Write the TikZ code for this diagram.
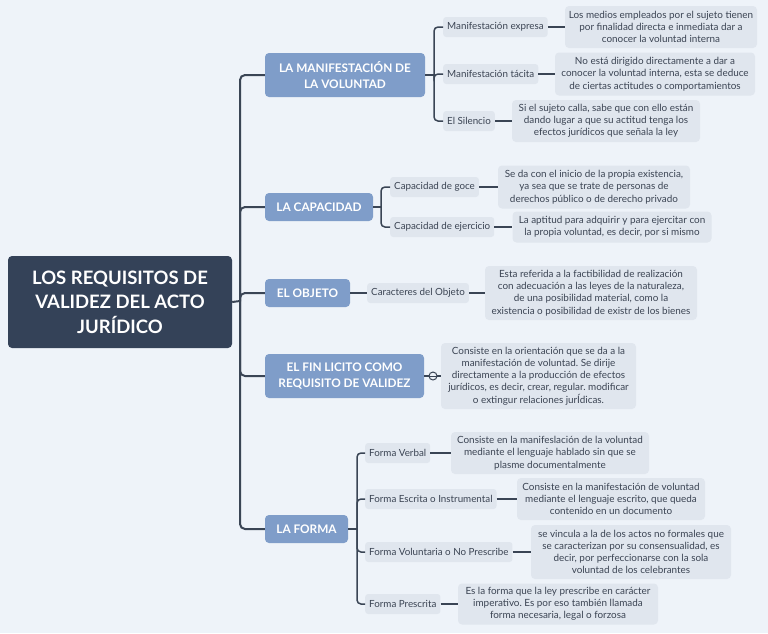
\documentclass[tikz,border=0pt]{standalone}
\usepackage{fontspec}
\setmainfont{Lato}
\frenchspacing
\definecolor{bg}{HTML}{EEF3F9}
\definecolor{rootc}{HTML}{344258}
\definecolor{mainc}{HTML}{7F9DC9}
\definecolor{boxc}{HTML}{E0E6EE}
\definecolor{txt}{HTML}{3B4453}
\definecolor{linec}{HTML}{3A4555}
\tikzset{
  rootbox/.style={fill=rootc, text=white, rounded corners=4, align=center, inner sep=0,
    font=\fontsize{18.5}{24.5}\selectfont\bfseries},
  mainbox/.style={fill=mainc, text=white, rounded corners=4, align=center, inner sep=0,
    font=\fontsize{11.8}{16}\selectfont\bfseries},
  subbox/.style={fill=boxc, text=txt, rounded corners=3, align=center, inner xsep=4, inner ysep=0,
    minimum height=20, anchor=west, font=\fontsize{9.8}{12}\selectfont},
  detail/.style={fill=boxc, text=txt, rounded corners=4, align=center, inner sep=0,
    font=\fontsize{9.9}{12.2}\selectfont},
  trunk/.style={draw=linec, line width=2, rounded corners=5},
  brack/.style={draw=linec, line width=1.5, rounded corners=4},
  conn/.style={draw=linec, line width=1.2}
}
\begin{document}
\begin{tikzpicture}[x=1pt,y=-1pt]
\fill[bg] (0,0) rectangle (768,633);
\useasboundingbox (0,0) rectangle (768,633);

% root
\node[rootbox, minimum width=224, minimum height=92] (root) at (120,302) {LOS REQUISITOS DE\\VALIDEZ DEL ACTO\\JURÍDICO};

% main branches
\node[mainbox, minimum width=160, minimum height=44] (b1) at (345,75) {LA MANIFESTACIÓN DE\\LA VOLUNTAD};
\node[mainbox, minimum width=108, minimum height=28] (b2) at (319,207) {LA CAPACIDAD};
\node[mainbox, minimum width=85, minimum height=28] (b3) at (307.5,293) {EL OBJETO};
\node[mainbox, minimum width=159, minimum height=44] (b4) at (344.5,376) {EL FIN LICITO COMO\\REQUISITO DE VALIDEZ};
\node[mainbox, minimum width=83, minimum height=28] (b5) at (306.5,529) {LA FORMA};

\coordinate (tj) at (240,301);
\draw[trunk] (root.east) -- (tj);
\foreach \b in {b1,b2,b3,b4,b5} { \draw[trunk] (\b.west) -| (tj); }

% branch 1
\node[subbox] (s11) at (443,27) {Manifestación expresa};
\node[subbox] (s12) at (443,74) {Manifestación tácita};
\node[subbox] (s13) at (443,121) {El Silencio};
\coordinate (j1) at (434,75);
\draw[brack] (b1.east) -- (j1);
\foreach \s in {s11,s12,s13} { \draw[brack] (\s.west) -| (j1); }
\node[detail, minimum width=192, minimum height=42] (d11) at (661,27) {Los medios empleados por el sujeto tienen\\por finalidad directa e inmediata dar a\\conocer la voluntad interna};
\node[detail, minimum width=200, minimum height=43] (d12) at (655,74) {No está dirigido directamente a dar a\\conocer la voluntad interna, esta se deduce\\de ciertas actitudes o comportamientos};
\node[detail, minimum width=188, minimum height=42] (d13) at (606,121) {Si el sujeto calla, sabe que con ello están\\dando lugar a que su actitud tenga los\\efectos jurídicos que señala la ley};
\draw[conn] (s11.east) -- (d11.west);
\draw[conn] (s12.east) -- (d12.west);
\draw[conn] (s13.east) -- (d13.west);

% branch 2
\node[subbox] (s21) at (390,187) {Capacidad de goce};
\node[subbox] (s22) at (390,227) {Capacidad de ejercicio};
\coordinate (j2) at (381,207);
\draw[brack] (b2.east) -- (j2);
\foreach \s in {s21,s22} { \draw[brack] (\s.west) -| (j2); }
\node[detail, minimum width=192, minimum height=43] (d21) at (594,187) {Se da con el inicio de la propia existencia,\\ya sea que se trate de personas de\\derechos público o de derecho privado};
\node[detail, minimum width=199, minimum height=31] (d22) at (612,227) {La aptitud para adquirir y para ejercitar con\\la propia voluntad, es decir, por si mismo};
\draw[conn] (s21.east) -- (d21.west);
\draw[conn] (s22.east) -- (d22.west);

% branch 3
\node[subbox] (s31) at (367,293) {Caracteres del Objeto};
\draw[conn] (b3.east) -- (s31.west);
\node[detail, minimum width=212, minimum height=54] (d31) at (591,293) {Esta referida a la factibilidad de realización\\con adecuación a las leyes de la naturaleza,\\de una posibilidad material, como la\\existencia o posibilidad de existr de los bienes};
\draw[conn] (s31.east) -- (d31.west);

% branch 4
\node[detail, minimum width=195, minimum height=66] (d41) at (538.5,376) {Consiste en la orientación que se da a la\\manifestación de voluntad. Se dirije\\directamente a la producción de efectos\\jurídicos, es decir, crear, regular. modificar\\o extingur relaciones jurÍdicas.};
\draw[conn] (b4.east) -- (d41.west);
\node[circle, draw=linec, line width=1, fill=bg, inner sep=0, minimum size=8] (col) at (433,376) {};
\draw[linec, line width=1] (col.west) -- (col.east);

% branch 5
\node[subbox] (s51) at (365,453) {Forma Verbal};
\node[subbox] (s52) at (365,499) {Forma Escrita o Instrumental};
\node[subbox] (s53) at (365,552) {Forma Voluntaria o No Prescribe};
\node[subbox] (s54) at (365,604) {Forma Prescrita};
\coordinate (j5) at (357,529);
\draw[brack] (b5.east) -- (j5);
\foreach \s in {s51,s52,s53,s54} { \draw[brack] (\s.west) -| (j5); }
\node[detail, minimum width=198, minimum height=42] (d51) at (550,453) {Consiste en la manifeslación de la voluntad\\mediante el lenguaje hablado sin que se\\plasme documentalmente};
\node[detail, minimum width=188, minimum height=42] (d52) at (611,499) {Consiste en la manifestación de voluntad\\mediante el lenguaje escrito, que queda\\contenido en un documento};
\node[detail, minimum width=200, minimum height=54] (d53) at (631,552) {se vincula a la de los actos no formales que\\se caracterizan por su consensualidad, es\\decir, por perfeccionarse con la sola\\voluntad de los celebrantes};
\node[detail, minimum width=200, minimum height=41] (d54) at (558,604) {Es la forma que la ley prescribe en carácter\\imperativo. Es por eso también llamada\\forma necesaria, legal o forzosa};
\draw[conn] (s51.east) -- (d51.west);
\draw[conn] (s52.east) -- (d52.west);
\draw[conn] (s53.east) -- (d53.west);
\draw[conn] (s54.east) -- (d54.west);
\end{tikzpicture}
\end{document}
